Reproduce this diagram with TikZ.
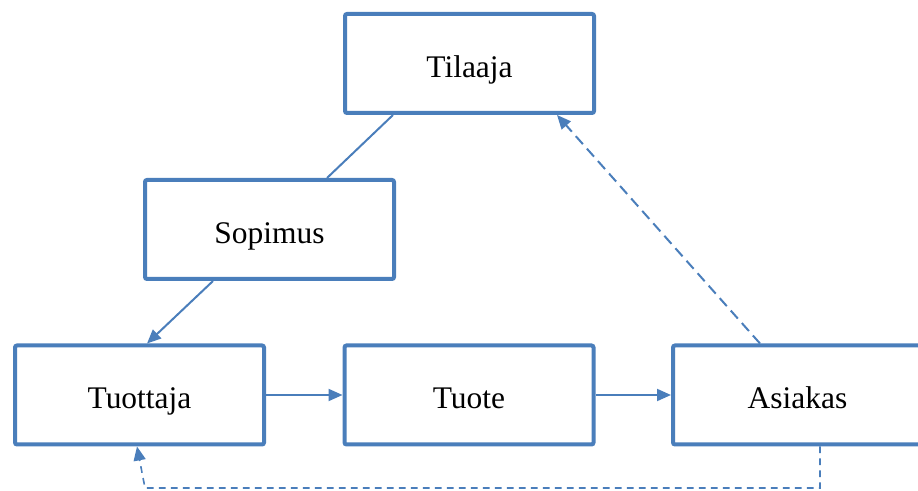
\documentclass[tikz,border=0pt]{standalone}
\usepackage{fontspec}
\setmainfont{Liberation Serif}
\usetikzlibrary{arrows.meta,calc}
\definecolor{boxblue}{RGB}{74,126,187}
\tikzset{
  box/.style={draw=boxblue, line width=3pt, rounded corners=1.5pt, minimum width=186.75pt, minimum height=74.25pt, inner sep=0pt, text height=21pt, text depth=0pt, fill=white, font=\fontsize{23.6pt}{28pt}\selectfont},
  conn/.style={draw=boxblue, line width=1.5pt},
  tip/.style={-{Triangle[length=10.5pt,width=9pt]}},
  dashline/.style={dash pattern=on 8pt off 4.5pt},
  dotline/.style={line width=1.2pt, dash pattern=on 5pt off 4pt}
}
\begin{document}
\begin{tikzpicture}[x=0.75pt,y=-0.75pt]
\useasboundingbox (0,0) rectangle (918,491);
\node[box] (til) at (469.5,63.5) {Tilaaja};
\node[box] (sop) at (269.5,229.5) {Sopimus};
\node[box] (tuo) at (139.5,395) {Tuottaja};
\node[box] (tte) at (469,395) {Tuote};
\node[box] (asi) at (797.5,395) {Asiakas};
\coordinate (a1) at ($(til.south west)+(50,0)$);
\coordinate (a2) at ($(sop.north west)+(184,0)$);
\coordinate (b1) at ($(sop.south west)+(70,0)$);
\coordinate (b2) at ($(tuo.north west)+(134,0)$);
\coordinate (c1) at ($(asi.north west)+(89,0)$);
\coordinate (c2) at ($(til.south west)+(214,0)$);
\coordinate (d1) at ($(asi.south west)+(149,0)$);
\coordinate (d2) at ($(tuo.south west)+(124,0)$);
\coordinate (dc) at (820,488);
\coordinate (dl) at (145,488);
\draw[conn] (a1) -- (a2);
\draw[conn,tip] (b1) -- (b2);
\draw[conn,tip] (tuo.east) -- (tte.west);
\draw[conn,tip] (tte.east) -- (asi.west);
\draw[conn,tip,dashline] (c1) -- (c2);
\draw[conn,tip,dotline] (d1) -- (dc) -- (dl) -- (d2);
\end{tikzpicture}
\end{document}
